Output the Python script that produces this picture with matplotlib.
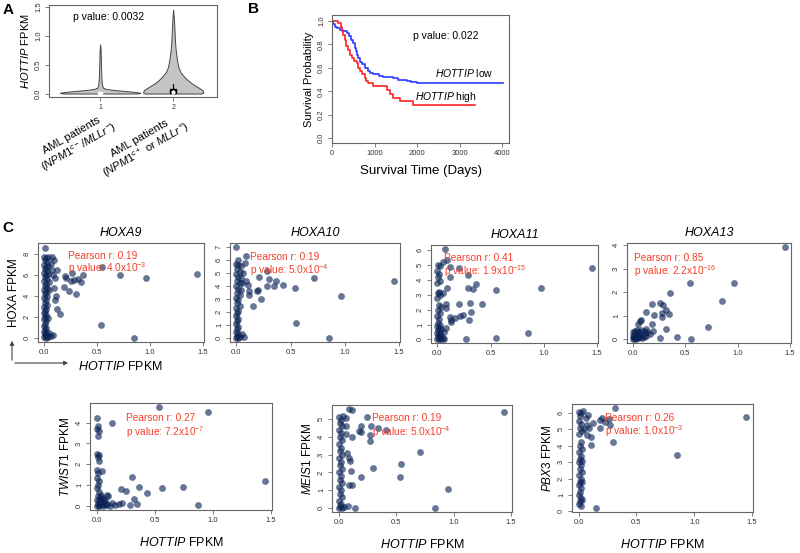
import matplotlib
matplotlib.use("Agg")
import matplotlib.pyplot as plt
import numpy as np

plt.rcParams['font.family'] = ['Liberation Sans', 'DejaVu Sans']
plt.rcParams['mathtext.fontset'] = 'custom'
plt.rcParams['mathtext.rm'] = 'Liberation Sans'
plt.rcParams['mathtext.it'] = 'Liberation Sans:italic'

W, H = 800, 553

# ---- panel A: violin profiles (y level, half width) ----
vio1_y = [0.0, 0.01, 0.02, 0.04, 0.06, 0.08, 0.1, 0.15, 0.25, 0.4, 0.6, 0.75, 0.85]
vio1_w = [0.5, 0.55, 0.52, 0.38, 0.2, 0.08, 0.04, 0.025, 0.018, 0.014, 0.01, 0.007, 0.0]
vio2_y = [0.0, 0.01, 0.03, 0.06, 0.1, 0.17, 0.23, 0.29, 0.37, 0.46, 0.6, 0.75, 0.9, 1.04, 1.25, 1.45]
vio2_w = [0.38, 0.41, 0.41, 0.40, 0.35, 0.26, 0.2, 0.15, 0.1, 0.07, 0.05, 0.035, 0.025, 0.02, 0.012, 0.0]
groups = [1, 2]
group_labels = ["AML patients\n($\\it{NPM1}^{c-}$/$\\it{MLLr}^{-}$)",
                "AML patients\n($\\it{NPM1}^{c+}$ or $\\it{MLLr}^{+}$)"]

# ---- panel B: KM curves ----
low_t = [0, 30, 70, 120, 190, 260, 345, 400, 450, 495, 530, 560, 590, 620, 660, 700, 775, 850,
         900, 965, 1100, 1200, 1435, 1550, 1760, 1850, 1990, 4020]
low_s = [1.0, 0.97, 0.95, 0.94, 0.92, 0.91, 0.895, 0.87, 0.84, 0.81, 0.77, 0.74, 0.71, 0.68, 0.65,
         0.63, 0.60, 0.57, 0.555, 0.545, 0.53, 0.52, 0.51, 0.50, 0.49, 0.48, 0.47, 0.47]
high_t = [0, 150, 200, 228, 260, 305, 340, 380, 420, 462, 520, 580, 611, 650, 697, 776, 810, 853,
          971, 1285, 1363, 1442, 1600, 1910, 3360]
high_s = [1.0, 0.985, 0.95, 0.91, 0.88, 0.84, 0.79, 0.75, 0.71, 0.68, 0.66, 0.64, 0.60, 0.575,
          0.545, 0.51, 0.49, 0.467, 0.444, 0.41, 0.38, 0.34, 0.32, 0.28, 0.28]

# ---- panel C: HOTTIP FPKM vs gene FPKM ----
hoxa9 = [(1.44, 6.1), (0.96, 5.7), (0.72, 6.0), (0.55, 6.75), (0.54, 1.3), (0.85, 0.05),
         (0.20, 5.9), (0.26, 6.2), (0.25, 5.4), (0.19, 4.9), (0.23, 4.5), (0.30, 4.2), (0.32, 5.6),
         (0.35, 5.3), (0.37, 6.0), (0.28, 5.5), (0.21, 5.7), (0.09, 7.4), (0.07, 6.5), (0.10, 5.7),
         (0.12, 6.5), (0.09, 4.8), (0.11, 4.0), (0.10, 3.6), (0.12, 2.8), (0.15, 2.3), (0.05, 4.6),
         (0.04, 1.9), (0.01, 8.6), (0.07, 7.7), (0.06, 7.1), (0.08, 6.0), (0.05, 5.3), (0.06, 0.2),
         (0.08, 0.3), (0.05, 0.5),
         (0.00, 7.7), (0.02, 7.6), (0.04, 7.7), (0.01, 7.4), (0.03, 7.2), (0.00, 7.0), (0.02, 6.8),
         (0.04, 6.9), (0.01, 6.6), (0.03, 6.4), (0.00, 6.2), (0.02, 6.0), (0.04, 6.1), (0.01, 5.8),
         (0.03, 5.6), (0.00, 5.4), (0.02, 5.2), (0.01, 5.0), (0.03, 4.8), (0.00, 4.6), (0.02, 4.4),
         (0.01, 4.2), (0.03, 4.0), (0.00, 3.8), (0.02, 3.6), (0.01, 3.4), (0.03, 3.2), (0.00, 3.0),
         (0.02, 2.8), (0.01, 2.6), (0.00, 2.4), (0.02, 2.2), (0.01, 2.0), (0.00, 1.8), (0.02, 1.6),
         (0.01, 1.4), (0.00, 1.2), (0.02, 1.0), (0.01, 0.8), (0.00, 0.6), (0.02, 0.5), (0.01, 0.3),
         (0.03, 0.2), (0.00, 0.1), (0.02, 0.0), (0.04, 0.1)]
hoxa10 = [(1.45, 4.4), (0.96, 3.2), (0.72, 4.6), (0.54, 3.85), (0.55, 1.2), (0.85, 0.0), (0.43, 4.1),
          (0.35, 4.0), (0.37, 4.35), (0.30, 4.55), (0.28, 5.15), (0.21, 4.7), (0.28, 4.0), (0.23, 3.0),
          (0.19, 3.65), (0.20, 3.7), (0.15, 2.45), (0.12, 3.3), (0.12, 3.65), (0.11, 4.05), (0.09, 4.4),
          (0.08, 5.75), (0.085, 6.3), (0.0, 7.0), (0.02, 6.0), (0.06, 5.0), (0.05, 4.2), (0.07, 0.1),
          (0.05, 0.3),
          (0.00, 5.7), (0.02, 5.6), (0.04, 5.5), (0.01, 5.3), (0.03, 5.1), (0.00, 4.9), (0.02, 4.7),
          (0.04, 4.6), (0.01, 4.4), (0.03, 4.2), (0.00, 4.0), (0.02, 3.8), (0.04, 3.7), (0.01, 3.5),
          (0.03, 3.3), (0.00, 3.1), (0.02, 2.9), (0.01, 2.7), (0.03, 2.5), (0.00, 2.3), (0.02, 2.1),
          (0.01, 1.9), (0.00, 1.7), (0.02, 1.5), (0.01, 1.3), (0.00, 1.1), (0.02, 0.9), (0.01, 0.7),
          (0.00, 0.5), (0.02, 0.35), (0.01, 0.2), (0.03, 0.1), (0.00, 0.0), (0.02, 0.05)]
hoxa11 = [(1.45, 4.8), (0.97, 3.45), (0.85, 0.4), (0.55, 3.35), (0.55, 0.1), (0.27, 0.05), (0.42, 2.35),
          (0.31, 2.45), (0.32, 1.85), (0.30, 1.3), (0.29, 3.45), (0.34, 3.4), (0.36, 3.75), (0.29, 4.35),
          (0.20, 4.8), (0.20, 2.35), (0.24, 1.65), (0.21, 1.55), (0.17, 1.45), (0.13, 1.3), (0.13, 1.15),
          (0.12, 1.5), (0.08, 2.1), (0.08, 2.35), (0.09, 3.45), (0.12, 4.2), (0.12, 4.85), (0.09, 5.3),
          (0.07, 6.05), (0.05, 5.2), (0.05, 3.15), (0.06, 0.5), (0.08, 0.75),
          (0.01, 5.0), (0.03, 4.9), (0.00, 4.6), (0.02, 4.4), (0.01, 4.2), (0.03, 3.9), (0.00, 3.8),
          (0.02, 3.2), (0.01, 3.1), (0.03, 3.0), (0.00, 2.8), (0.02, 2.3), (0.04, 2.2), (0.01, 2.0),
          (0.03, 1.8), (0.00, 1.6), (0.02, 1.4), (0.01, 1.1), (0.03, 1.0), (0.00, 0.9), (0.02, 0.8),
          (0.04, 0.7), (0.01, 0.6), (0.03, 0.5), (0.00, 0.4), (0.02, 0.3), (0.04, 0.25), (0.01, 0.2),
          (0.03, 0.1), (0.05, 0.1), (0.00, 0.05), (0.02, 0.0), (0.04, 0.0), (0.06, 0.05)]
hoxa13 = [(1.45, 3.93), (0.96, 2.38), (0.85, 1.64), (0.54, 2.38), (0.72, 0.5), (0.55, 0.03), (0.42, 0.1),
          (0.35, 1.97), (0.26, 1.53), (0.18, 1.5), (0.29, 1.47), (0.31, 1.26), (0.34, 1.07), (0.28, 1.11),
          (0.28, 0.96), (0.20, 1.04), (0.12, 1.16), (0.31, 0.44), (0.26, 0.06), (0.18, 0.64), (0.19, 0.34),
          (0.07, 0.79), (0.05, 0.64), (0.12, 0.44), (0.16, 0.22), (0.13, 0.3), (0.08, 0.8), (0.10, 0.35),
          (0.00, 0.0), (0.02, 0.05), (0.04, 0.1), (0.01, 0.15), (0.03, 0.2), (0.05, 0.25), (0.00, 0.3),
          (0.02, 0.35), (0.04, 0.4), (0.06, 0.3), (0.08, 0.2), (0.07, 0.1), (0.09, 0.05), (0.01, 0.05),
          (0.03, 0.0), (0.05, 0.05), (0.06, 0.15), (0.10, 0.1), (0.12, 0.15), (0.11, 0.25), (0.08, 0.4),
          (0.02, 0.25), (0.00, 0.12)]
twist1 = [(0.54, 4.75), (0.96, 4.5), (1.45, 1.2), (0.13, 4.0), (0.30, 1.4), (0.21, 0.8), (0.25, 0.72),
          (0.36, 0.91), (0.43, 0.62), (0.56, 0.86), (0.74, 0.93), (0.87, 0.03), (0.32, 0.35), (0.35, 0.1),
          (0.29, 0.06), (0.19, 0.1), (0.09, 0.1), (0.10, 0.5), (0.09, 0.55), (0.045, 1.7), (0.13, 0.15),
          (0.16, 0.05), (0.22, 0.15), (0.06, 0.2), (0.07, 0.3),
          (0.00, 4.2), (0.01, 3.85), (0.00, 3.7), (0.02, 3.6), (0.01, 3.35), (0.00, 2.5), (0.02, 2.45),
          (0.01, 2.35), (0.02, 2.15), (0.00, 1.75), (0.01, 1.6), (0.00, 1.35), (0.02, 1.2), (0.01, 1.0),
          (0.00, 0.85), (0.02, 0.65), (0.04, 0.55), (0.01, 0.5), (0.03, 0.4), (0.05, 0.35), (0.00, 0.3),
          (0.02, 0.25), (0.04, 0.2), (0.06, 0.1), (0.01, 0.1), (0.03, 0.05), (0.05, 0.0), (0.00, 0.0),
          (0.02, 0.0), (0.08, 0.05), (0.11, 0.0), (0.04, 0.45)]
meis1 = [(1.44, 5.38), (0.95, 1.08), (0.84, 0.0), (0.71, 3.17), (0.54, 2.45), (0.53, 1.77), (0.30, 2.23),
         (0.19, 1.77), (0.14, 0.0), (0.09, 1.32), (0.12, 1.32), (0.11, 2.08), (0.10, 2.64), (0.09, 2.83),
         (0.07, 3.11), (0.12, 4.0), (0.06, 4.15), (0.09, 5.57), (0.12, 5.5), (0.035, 5.19), (0.25, 5.13),
         (0.19, 4.62), (0.18, 4.34), (0.19, 4.25), (0.27, 3.77), (0.27, 4.1), (0.28, 4.62), (0.34, 4.5),
         (0.41, 4.38), (0.065, 5.06), (0.06, 4.6), (0.08, 0.1), (0.05, 0.05),
         (0.00, 5.1), (0.02, 4.95), (0.01, 4.8), (0.03, 4.6), (0.00, 4.4), (0.02, 4.2), (0.01, 4.0),
         (0.03, 3.8), (0.00, 3.6), (0.02, 3.4), (0.01, 3.2), (0.03, 3.0), (0.00, 2.8), (0.02, 2.6),
         (0.01, 2.4), (0.03, 2.2), (0.00, 2.0), (0.02, 1.8), (0.01, 1.6), (0.03, 1.4), (0.00, 1.2),
         (0.02, 1.0), (0.01, 0.8), (0.03, 0.6), (0.00, 0.4), (0.02, 0.25), (0.01, 0.1), (0.03, 0.0),
         (0.00, 0.0)]
pbx3 = [(1.45, 5.75), (0.85, 3.42), (0.15, 0.2), (0.31, 6.3), (0.30, 4.24), (0.27, 5.28), (0.20, 5.7),
        (0.18, 5.07), (0.23, 5.42), (0.26, 5.63), (0.18, 5.55), (0.11, 4.04), (0.105, 4.5), (0.07, 4.66),
        (0.12, 5.38), (0.075, 5.28), (0.06, 5.7), (0.04, 6.1), (0.03, 3.06), (0.03, 1.76), (0.025, 0.72),
        (0.08, 5.9), (0.05, 5.0), (0.09, 5.1),
        (0.00, 6.05), (0.02, 6.0), (0.01, 5.8), (0.00, 5.5), (0.02, 5.3), (0.01, 5.1), (0.03, 4.9),
        (0.00, 4.7), (0.02, 4.2), (0.01, 4.0), (0.03, 3.8), (0.00, 3.6), (0.02, 3.4), (0.01, 3.2),
        (0.00, 3.0), (0.02, 2.8), (0.01, 2.6), (0.03, 2.4), (0.00, 2.2), (0.02, 2.0), (0.01, 1.8),
        (0.00, 1.6), (0.02, 1.4), (0.01, 1.2), (0.00, 1.0), (0.02, 0.8), (0.01, 0.6), (0.00, 0.45),
        (0.02, 0.35)]

pearson_r = ["0.19", "0.19", "0.41", "0.85", "0.27", "0.19", "0.26"]
p_mant = ["4.0", "5.0", "1.9", "2.2", "7.2", "5.0", "1.0"]
p_exp = ["-3", "-4", "-15", "-16", "-7", "-4", "-3"]

FRAME = '#666666'
DOT = '#0b2255'
RED = '#f5402c'


def px_axes(x0, y0, x1, y1):
    return fig.add_axes([x0 / W, 1 - y1 / H, (x1 - x0) / W, (y1 - y0) / H])


def r_style(ax, fs=5.5):
    for s in ax.spines.values():
        s.set_color(FRAME)
        s.set_linewidth(0.8)
    ax.tick_params(length=3, width=0.6, color=FRAME, labelsize=fs, labelcolor='#333333', pad=2)
    ax.tick_params(axis='y', labelrotation=90)
    for lab in ax.get_yticklabels():
        lab.set_va('center')


fig = plt.figure(figsize=(W / 100, H / 100), dpi=100)

# ---------------- A ----------------
axA = px_axes(49, 5, 217, 97)
for g, yy, ww in [(1, vio1_y, vio1_w), (2, vio2_y, vio2_w)]:
    yy = np.array(yy)
    ww = np.array(ww)
    axA.fill_betweenx(yy, g - ww, g + ww, color='#c4c4c4', edgecolor='#444444', linewidth=0.7)
axA.plot([2, 2], [0.08, 0.17], color='black', lw=0.8)
axA.add_patch(plt.Rectangle((1.96, 0.01), 0.08, 0.07, color='black'))
axA.plot([2], [0.03], 'o', color='white', ms=2)
axA.add_patch(plt.Rectangle((0.97, 0.0), 0.06, 0.02, color='white'))
axA.set_xlim(0.3, 2.6)
axA.set_ylim(-0.06, 1.53)
axA.set_xticks(groups)
axA.set_xticklabels(["1", "2"])
axA.set_yticks([0.0, 0.5, 1.0, 1.5])
r_style(axA)
axA.tick_params(axis='x', labelsize=5)
for g, lab in zip(groups, group_labels):
    axA.text(g + 0.08, -0.28, lab, rotation=30, rotation_mode='anchor', ha='right', va='top',
             multialignment='center', fontsize=8, transform=axA.transData)
axA.text(0.14, 0.87, "p value: 0.0032", transform=axA.transAxes, fontsize=7.5, va='center')
axA.set_ylabel("$\\it{HOTTIP}$ FPKM", fontsize=8, labelpad=3)
fig.text(3 / W, 1 - 10 / H, "A", fontsize=11, fontweight='bold', va='center')

# ---------------- B ----------------
axB = px_axes(332, 15, 509, 143)
axB.step(low_t, low_s, where='post', color='#2b3cff', lw=1.2)
axB.step(high_t, high_s, where='post', color='#ff2222', lw=1.2)
axB.set_xlim(0, 4160)
axB.set_ylim(-0.04, 1.05)
axB.set_xticks([0, 1000, 2000, 3000, 4000])
axB.set_yticks([0.0, 0.2, 0.4, 0.6, 0.8, 1.0])
r_style(axB)
axB.text(1900, 0.87, "p value: 0.022", fontsize=7.5, va='center')
axB.text(2420, 0.555, "$\\it{HOTTIP}$ low", fontsize=7.5, va='center')
axB.text(1960, 0.35, "$\\it{HOTTIP}$ high", fontsize=7.5, va='center')
axB.set_ylabel("Survival Probability", fontsize=8, labelpad=3)
axB.set_xlabel("Survival Time (Days)", fontsize=9.5, labelpad=6)
fig.text(248 / W, 1 - 9 / H, "B", fontsize=11, fontweight='bold', va='center')

# ---------------- C ----------------
panels = [
    (hoxa9, "HOXA9", (38, 243, 204, 342), (-0.35, 9.05), [0, 2, 4, 6, 8], (0.18, 0.87, 0.75)),
    (hoxa10, "HOXA10", (230, 243, 400, 342), (-0.28, 7.28), [0, 1, 2, 3, 4, 5, 6, 7], (0.12, 0.86, 0.73)),
    (hoxa11, "HOXA11", (431, 245, 598, 343), (-0.24, 6.34), [0, 1, 2, 3, 4, 5, 6], (0.08, 0.87, 0.73)),
    (hoxa13, "HOXA13", (627, 243, 791, 343), (-0.16, 4.09), [0, 1, 2, 3, 4], (0.04, 0.85, 0.72)),
    (twist1, "TWIST1", (90, 403, 272, 510), (-0.19, 4.94), [0, 1, 2, 3, 4], (0.2, 0.86, 0.73)),
    (meis1, "MEIS1", (332, 405, 512, 512), (-0.22, 5.79), [0, 1, 2, 3, 4, 5], (0.22, 0.88, 0.75)),
    (pbx3, "PBX3", (572, 404, 753, 512), (-0.04, 6.54), [0, 1, 2, 3, 4, 5, 6], (0.18, 0.87, 0.75)),
]

for i, (pts, gene, box, ylim, yt, tpos) in enumerate(panels):
    ax = px_axes(*box)
    xs = [p[0] for p in pts]
    ys = [p[1] for p in pts]
    ax.scatter(xs, ys, s=24, color=DOT, alpha=0.62, linewidths=0)
    ax.set_xlim(-0.058, 1.508)
    ax.set_ylim(*ylim)
    ax.set_xticks([0.0, 0.5, 1.0, 1.5])
    ax.set_xticklabels(["0.0", "0.5", "1.0", "1.5"])
    ax.set_yticks(yt)
    r_style(ax)
    tx, ty1, ty2 = tpos
    ax.text(tx, ty1, "Pearson r: " + pearson_r[i], transform=ax.transAxes, color=RED,
            fontsize=7.3, va='center')
    ax.text(tx, ty2, "p value: " + p_mant[i] + "x10$^{\\mathregular{" + p_exp[i] + "}}$",
            transform=ax.transAxes, color=RED, fontsize=7.3, va='center')
    if i < 4:
        ax.set_title(gene, fontsize=9, style='italic', pad=5)
        if i == 0:
            ax.set_ylabel("HOXA FPKM", fontsize=8.5, labelpad=3)
    else:
        ax.set_ylabel("$\\it{" + gene + "}$ FPKM", fontsize=8.5, labelpad=3)
        ax.set_xlabel("$\\it{HOTTIP}$ FPKM", fontsize=9, labelpad=9)

# axis-direction arrows under HOXA9
fig.add_artist(matplotlib.patches.FancyArrowPatch((12 / W, 1 - 363 / H), (12 / W, 1 - 338 / H),
               transform=fig.transFigure, arrowstyle='-|>', mutation_scale=6, color='#444444', lw=0.8))
fig.add_artist(matplotlib.patches.FancyArrowPatch((12 / W, 1 - 363 / H), (71 / W, 1 - 363 / H),
               transform=fig.transFigure, arrowstyle='-|>', mutation_scale=6, color='#444444', lw=0.8))
fig.text(78 / W, 1 - 366 / H, "$\\it{HOTTIP}$ FPKM", fontsize=9, va='center')
fig.text(2 / W, 1 - 228 / H, "C", fontsize=11, fontweight='bold', va='center')

fig.savefig("out.png", dpi=100)
